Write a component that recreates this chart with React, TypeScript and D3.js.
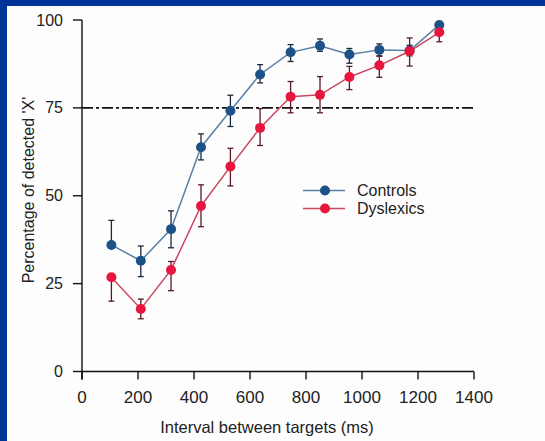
import React from "react";
import * as d3 from "d3";

const intervals = [105, 210, 318, 425, 530, 636, 745, 850, 955, 1062, 1170, 1276];
const controls = [36, 31.5, 40.5, 63.8, 74.2, 84.5, 90.8, 92.7, 90.2, 91.5, 91.3, 98.6];
const controlsErrUp = [7, 4.2, 5.2, 3.8, 4.4, 2.8, 2.2, 1.9, 1.7, 1.7, 1.5, 0.8];
const controlsErrDown = [0, 4.5, 5.3, 3.6, 4.5, 2.4, 2.6, 1.6, 2.5, 1.7, 1.5, 0.8];
const dyslexics = [26.8, 17.8, 28.9, 47.1, 58.3, 69.3, 78.2, 78.7, 83.8, 87.1, 91.1, 96.5];
const dyslexicsErrUp = [0, 2.8, 2.4, 6, 5.2, 5.5, 4.3, 5.2, 3, 2.6, 3.8, 0];
const dyslexicsErrDown = [6.8, 2.8, 5.9, 5.9, 5.5, 5, 4.6, 5.1, 3.6, 3.4, 4.2, 2.7];
const xTicks = [0, 200, 400, 600, 800, 1000, 1200, 1400];
const yTicks = [0, 25, 50, 75, 100];
const threshold = 75;
const seriesNames = ["Controls", "Dyslexics"];

const W = 545;
const H = 441;

export default function App() {
  const x = d3.scaleLinear().domain([0, 1400]).range([82, 474]);
  const y = d3.scaleLinear().domain([0, 100]).range([371.5, 20]);

  const series = [
    { name: seriesNames[0], vals: controls, up: controlsErrUp, down: controlsErrDown, marker: "#1d5287", line: "#5a7fa6", err: "#1a2a40" },
    { name: seriesNames[1], vals: dyslexics, up: dyslexicsErrUp, down: dyslexicsErrDown, marker: "#e8163e", line: "#c8485f", err: "#5a1a26" },
  ];

  const lineGen = d3
    .line<number>()
    .x((_, i) => x(intervals[i]))
    .y((d) => y(d));

  const font = "'Liberation Sans', Arial, sans-serif";

  return (
    <svg width={W} height={H} style={{ position: "fixed", left: 0, top: 0 }} fontFamily={font}>
      <rect x={0} y={0} width={W} height={H} fill="#003399" />
      <rect x={7} y={6} width={W - 7} height={H - 6} fill="#fdfdfd" />

      {/* threshold line */}
      <line x1={x(0)} x2={x(1400)} y1={y(threshold)} y2={y(threshold)} stroke="#111" strokeWidth={1.6} strokeDasharray="11,3,3,3" />

      {/* axes */}
      <line x1={x(0)} x2={x(0)} y1={y(100)} y2={y(0) + 8} stroke="#111" strokeWidth={1.4} />
      <line x1={x(0)} x2={x(1400)} y1={y(0)} y2={y(0)} stroke="#111" strokeWidth={1.4} />
      {yTicks.map((t) => (
        <g key={"y" + t}>
          <line x1={x(0) - 9} x2={x(0)} y1={y(t)} y2={y(t)} stroke="#111" strokeWidth={1.4} />
          <text x={x(0) - 19} y={y(t)} dy="0.35em" textAnchor="end" fontSize={16} fill="#222">
            {t}
          </text>
        </g>
      ))}
      {xTicks.map((t) => (
        <g key={"x" + t}>
          <line x1={x(t)} x2={x(t)} y1={y(0)} y2={y(0) + 8} stroke="#111" strokeWidth={1.4} />
          <text x={x(t)} y={403} textAnchor="middle" fontSize={17} fill="#222">
            {t}
          </text>
        </g>
      ))}
      <text x={267} y={433} textAnchor="middle" fontSize={16.5} fill="#222">
        Interval between targets (ms)
      </text>
      <text transform="translate(34,190) rotate(-90)" textAnchor="middle" fontSize={16} fill="#222">
        Percentage of detected 'X'
      </text>

      {series.map((s) => (
        <g key={s.name}>
          <path d={lineGen(s.vals) || ""} fill="none" stroke={s.line} strokeWidth={1.5} />
          {s.vals.map((v, i) => {
            const cx = x(intervals[i]);
            const yt = y(v + s.up[i]);
            const yb = y(v - s.down[i]);
            return (
              <g key={i}>
                <line x1={cx} x2={cx} y1={yt} y2={yb} stroke={s.err} strokeWidth={1.3} />
                {s.up[i] > 0 && <line x1={cx - 3} x2={cx + 3} y1={yt} y2={yt} stroke={s.err} strokeWidth={1.3} />}
                {s.down[i] > 0 && <line x1={cx - 3} x2={cx + 3} y1={yb} y2={yb} stroke={s.err} strokeWidth={1.3} />}
              </g>
            );
          })}
          {s.vals.map((v, i) => (
            <circle key={"c" + i} cx={x(intervals[i])} cy={y(v)} r={5} fill={s.marker} />
          ))}
        </g>
      ))}

      {/* legend */}
      {series.map((s, i) => {
        const ly = 190.5 + i * 18;
        return (
          <g key={"lg" + s.name}>
            <line x1={303} x2={345} y1={ly} y2={ly} stroke={s.line} strokeWidth={1.5} />
            <circle cx={325} cy={ly} r={5} fill={s.marker} />
            <text x={357} y={ly} dy="0.35em" fontSize={16} fill="#222">
              {s.name}
            </text>
          </g>
        );
      })}
    </svg>
  );
}
